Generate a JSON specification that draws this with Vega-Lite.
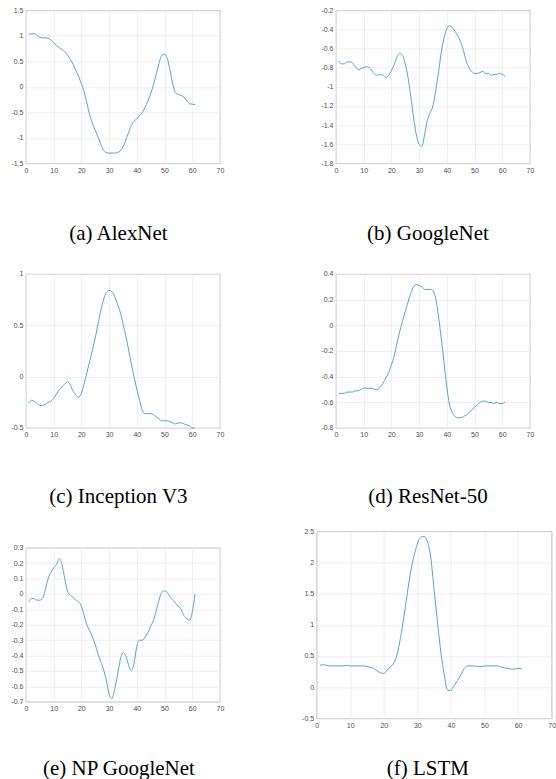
{
  "$schema": "https://vega.github.io/schema/vega-lite/v6.json",
  "background": "white",
  "padding": {"left": 9.94, "top": 5.3, "right": 0, "bottom": 0},
  "config": {
    "view": {"stroke": "#9a9a9a", "strokeWidth": 0.8},
    "axis": {
      "labelFont": "Liberation Sans", "labelFontSize": 7, "labelColor": "#4d4d4d",
      "labelPadding": 3, "labelFlush": false, "labelOverlap": false,
      "ticks": false, "domain": false,
      "grid": true, "gridColor": "#ebebeb", "gridWidth": 0.8,
      "title": null,
      "labelExpr": "replace(format(datum.value, '~g'), '\u2212', '-')"
    },
    "title": {"font": "Liberation Serif", "fontSize": 21, "fontWeight": "normal", "color": "#000000", "baseline": "top", "frame": "group", "orient": "bottom"},
    "line": {"color": "#52a5c8", "strokeWidth": 1, "interpolate": "monotone"}
  },
  "datasets": {
    "alexnet": [
      {"t":1,"v":1.03},{"t":2,"v":1.04},{"t":3,"v":1.04},{"t":4,"v":1.01},{"t":5,"v":0.97},{"t":6,"v":0.96},{"t":7,"v":0.96},{"t":8,"v":0.95},{"t":9,"v":0.92},{"t":10,"v":0.87},
      {"t":11,"v":0.81},{"t":12,"v":0.77},{"t":13,"v":0.73},{"t":14,"v":0.69},{"t":15,"v":0.62},{"t":16,"v":0.54},{"t":17,"v":0.44},{"t":18,"v":0.32},{"t":19,"v":0.2},{"t":20,"v":0.06},
      {"t":21,"v":-0.1},{"t":22,"v":-0.32},{"t":23,"v":-0.55},{"t":24,"v":-0.72},{"t":25,"v":-0.85},{"t":26,"v":-0.98},{"t":27,"v":-1.12},{"t":28,"v":-1.25},{"t":29,"v":-1.29},{"t":30,"v":-1.3},
      {"t":31,"v":-1.3},{"t":32,"v":-1.3},{"t":33,"v":-1.29},{"t":34,"v":-1.26},{"t":35,"v":-1.18},{"t":36,"v":-1.05},{"t":37,"v":-0.9},{"t":38,"v":-0.76},{"t":39,"v":-0.68},{"t":40,"v":-0.62},
      {"t":41,"v":-0.57},{"t":42,"v":-0.5},{"t":43,"v":-0.4},{"t":44,"v":-0.28},{"t":45,"v":-0.14},{"t":46,"v":0.04},{"t":47,"v":0.24},{"t":48,"v":0.45},{"t":49,"v":0.62},{"t":50,"v":0.64},
      {"t":51,"v":0.56},{"t":52,"v":0.32},{"t":53,"v":0.05},{"t":54,"v":-0.12},{"t":55,"v":-0.15},{"t":56,"v":-0.17},{"t":57,"v":-0.2},{"t":58,"v":-0.27},{"t":59,"v":-0.33},{"t":60,"v":-0.34},{"t":61,"v":-0.35}
    ],
    "googlenet": [
      {"t":1,"v":-0.73},{"t":2,"v":-0.76},{"t":3,"v":-0.76},{"t":4,"v":-0.74},{"t":5,"v":-0.74},{"t":6,"v":-0.75},{"t":7,"v":-0.79},{"t":8,"v":-0.82},{"t":9,"v":-0.81},{"t":10,"v":-0.8},
      {"t":11,"v":-0.79},{"t":12,"v":-0.8},{"t":13,"v":-0.83},{"t":14,"v":-0.87},{"t":15,"v":-0.88},{"t":16,"v":-0.87},{"t":17,"v":-0.88},{"t":18,"v":-0.9},{"t":19,"v":-0.88},{"t":20,"v":-0.83},
      {"t":21,"v":-0.77},{"t":22,"v":-0.69},{"t":23,"v":-0.65},{"t":24,"v":-0.67},{"t":25,"v":-0.76},{"t":26,"v":-0.9},{"t":27,"v":-1.1},{"t":28,"v":-1.32},{"t":29,"v":-1.5},{"t":30,"v":-1.6},
      {"t":31,"v":-1.62},{"t":32,"v":-1.5},{"t":33,"v":-1.35},{"t":34,"v":-1.27},{"t":35,"v":-1.2},{"t":36,"v":-1.04},{"t":37,"v":-0.85},{"t":38,"v":-0.64},{"t":39,"v":-0.49},{"t":40,"v":-0.39},
      {"t":41,"v":-0.36},{"t":42,"v":-0.38},{"t":43,"v":-0.42},{"t":44,"v":-0.47},{"t":45,"v":-0.53},{"t":46,"v":-0.62},{"t":47,"v":-0.73},{"t":48,"v":-0.8},{"t":49,"v":-0.84},{"t":50,"v":-0.86},
      {"t":51,"v":-0.86},{"t":52,"v":-0.85},{"t":53,"v":-0.84},{"t":54,"v":-0.86},{"t":55,"v":-0.86},{"t":56,"v":-0.88},{"t":57,"v":-0.87},{"t":58,"v":-0.87},{"t":59,"v":-0.86},{"t":60,"v":-0.87},{"t":61,"v":-0.89}
    ],
    "inception": [
      {"t":1,"v":-0.26},{"t":2,"v":-0.23},{"t":3,"v":-0.24},{"t":4,"v":-0.26},{"t":5,"v":-0.28},{"t":6,"v":-0.28},{"t":7,"v":-0.27},{"t":8,"v":-0.25},{"t":9,"v":-0.24},{"t":10,"v":-0.21},
      {"t":11,"v":-0.17},{"t":12,"v":-0.13},{"t":13,"v":-0.1},{"t":14,"v":-0.07},{"t":15,"v":-0.05},{"t":16,"v":-0.08},{"t":17,"v":-0.14},{"t":18,"v":-0.18},{"t":19,"v":-0.2},{"t":20,"v":-0.16},
      {"t":21,"v":-0.07},{"t":22,"v":0.04},{"t":23,"v":0.15},{"t":24,"v":0.26},{"t":25,"v":0.38},{"t":26,"v":0.51},{"t":27,"v":0.64},{"t":28,"v":0.75},{"t":29,"v":0.82},{"t":30,"v":0.84},
      {"t":31,"v":0.83},{"t":32,"v":0.78},{"t":33,"v":0.71},{"t":34,"v":0.63},{"t":35,"v":0.52},{"t":36,"v":0.4},{"t":37,"v":0.27},{"t":38,"v":0.13},{"t":39,"v":0.0},{"t":40,"v":-0.12},
      {"t":41,"v":-0.23},{"t":42,"v":-0.33},{"t":43,"v":-0.36},{"t":44,"v":-0.36},{"t":45,"v":-0.36},{"t":46,"v":-0.37},{"t":47,"v":-0.39},{"t":48,"v":-0.41},{"t":49,"v":-0.43},{"t":50,"v":-0.43},
      {"t":51,"v":-0.43},{"t":52,"v":-0.44},{"t":53,"v":-0.45},{"t":54,"v":-0.46},{"t":55,"v":-0.45},{"t":56,"v":-0.45},{"t":57,"v":-0.46},{"t":58,"v":-0.47},{"t":59,"v":-0.48},{"t":60,"v":-0.5},{"t":61,"v":-0.5}
    ],
    "resnet": [
      {"t":1,"v":-0.53},{"t":2,"v":-0.53},{"t":3,"v":-0.53},{"t":4,"v":-0.52},{"t":5,"v":-0.52},{"t":6,"v":-0.52},{"t":7,"v":-0.51},{"t":8,"v":-0.51},{"t":9,"v":-0.5},{"t":10,"v":-0.49},
      {"t":11,"v":-0.49},{"t":12,"v":-0.49},{"t":13,"v":-0.49},{"t":14,"v":-0.5},{"t":15,"v":-0.5},{"t":16,"v":-0.48},{"t":17,"v":-0.45},{"t":18,"v":-0.41},{"t":19,"v":-0.37},{"t":20,"v":-0.31},
      {"t":21,"v":-0.24},{"t":22,"v":-0.14},{"t":23,"v":-0.05},{"t":24,"v":0.03},{"t":25,"v":0.11},{"t":26,"v":0.18},{"t":27,"v":0.25},{"t":28,"v":0.3},{"t":29,"v":0.32},{"t":30,"v":0.31},
      {"t":31,"v":0.3},{"t":32,"v":0.28},{"t":33,"v":0.28},{"t":34,"v":0.28},{"t":35,"v":0.27},{"t":36,"v":0.21},{"t":37,"v":0.07},{"t":38,"v":-0.1},{"t":39,"v":-0.29},{"t":40,"v":-0.48},
      {"t":41,"v":-0.62},{"t":42,"v":-0.68},{"t":43,"v":-0.71},{"t":44,"v":-0.72},{"t":45,"v":-0.72},{"t":46,"v":-0.71},{"t":47,"v":-0.7},{"t":48,"v":-0.68},{"t":49,"v":-0.66},{"t":50,"v":-0.64},
      {"t":51,"v":-0.62},{"t":52,"v":-0.6},{"t":53,"v":-0.59},{"t":54,"v":-0.59},{"t":55,"v":-0.6},{"t":56,"v":-0.6},{"t":57,"v":-0.61},{"t":58,"v":-0.6},{"t":59,"v":-0.61},{"t":60,"v":-0.61},{"t":61,"v":-0.6}
    ],
    "npgooglenet": [
      {"t":1,"v":-0.05},{"t":2,"v":-0.03},{"t":3,"v":-0.03},{"t":4,"v":-0.04},{"t":5,"v":-0.04},{"t":6,"v":-0.03},{"t":7,"v":0.03},{"t":8,"v":0.1},{"t":9,"v":0.14},{"t":10,"v":0.17},
      {"t":11,"v":0.19},{"t":12,"v":0.23},{"t":13,"v":0.19},{"t":14,"v":0.1},{"t":15,"v":0.02},{"t":16,"v":-0.01},{"t":17,"v":-0.02},{"t":18,"v":-0.04},{"t":19,"v":-0.05},{"t":20,"v":-0.08},
      {"t":21,"v":-0.14},{"t":22,"v":-0.2},{"t":23,"v":-0.24},{"t":24,"v":-0.28},{"t":25,"v":-0.33},{"t":26,"v":-0.39},{"t":27,"v":-0.44},{"t":28,"v":-0.49},{"t":29,"v":-0.56},{"t":30,"v":-0.65},
      {"t":31,"v":-0.68},{"t":32,"v":-0.62},{"t":33,"v":-0.53},{"t":34,"v":-0.43},{"t":35,"v":-0.38},{"t":36,"v":-0.4},{"t":37,"v":-0.46},{"t":38,"v":-0.5},{"t":39,"v":-0.45},{"t":40,"v":-0.34},
      {"t":41,"v":-0.3},{"t":42,"v":-0.3},{"t":43,"v":-0.28},{"t":44,"v":-0.25},{"t":45,"v":-0.21},{"t":46,"v":-0.17},{"t":47,"v":-0.11},{"t":48,"v":-0.04},{"t":49,"v":0.01},{"t":50,"v":0.02},
      {"t":51,"v":0.01},{"t":52,"v":-0.02},{"t":53,"v":-0.04},{"t":54,"v":-0.06},{"t":55,"v":-0.08},{"t":56,"v":-0.1},{"t":57,"v":-0.14},{"t":58,"v":-0.16},{"t":59,"v":-0.17},{"t":60,"v":-0.12},{"t":61,"v":0.0}
    ],
    "lstm": [
      {"t":1,"v":0.35},{"t":2,"v":0.36},{"t":3,"v":0.35},{"t":4,"v":0.34},{"t":5,"v":0.34},{"t":6,"v":0.34},{"t":7,"v":0.34},{"t":8,"v":0.34},{"t":9,"v":0.35},{"t":10,"v":0.34},
      {"t":11,"v":0.34},{"t":12,"v":0.34},{"t":13,"v":0.34},{"t":14,"v":0.34},{"t":15,"v":0.33},{"t":16,"v":0.32},{"t":17,"v":0.3},{"t":18,"v":0.26},{"t":19,"v":0.23},{"t":20,"v":0.22},
      {"t":21,"v":0.27},{"t":22,"v":0.33},{"t":23,"v":0.39},{"t":24,"v":0.53},{"t":25,"v":0.8},{"t":26,"v":1.13},{"t":27,"v":1.5},{"t":28,"v":1.85},{"t":29,"v":2.1},{"t":30,"v":2.3},
      {"t":31,"v":2.4},{"t":32,"v":2.42},{"t":33,"v":2.33},{"t":34,"v":2.08},{"t":35,"v":1.55},{"t":36,"v":1.04},{"t":37,"v":0.56},{"t":38,"v":0.2},{"t":39,"v":-0.05},{"t":40,"v":-0.05},
      {"t":41,"v":0.03},{"t":42,"v":0.11},{"t":43,"v":0.2},{"t":44,"v":0.3},{"t":45,"v":0.34},{"t":46,"v":0.34},{"t":47,"v":0.34},{"t":48,"v":0.33},{"t":49,"v":0.33},{"t":50,"v":0.34},
      {"t":51,"v":0.34},{"t":52,"v":0.34},{"t":53,"v":0.34},{"t":54,"v":0.34},{"t":55,"v":0.32},{"t":56,"v":0.31},{"t":57,"v":0.3},{"t":58,"v":0.29},{"t":59,"v":0.29},{"t":60,"v":0.3},{"t":61,"v":0.3}
    ]
  },
  "spacing": 18,
  "vconcat": [
    {
      "spacing": 23.7,
      "vconcat": [
        {
          "bounds": "flush",
          "spacing": 116,
          "hconcat": [
            {
              "width": 194, "height": 153,
              "data": {"name": "alexnet"},
              "title": {"text": "(a) AlexNet", "offset": 50.2, "dx": -4.5},
              "mark": {"type": "line"},
              "encoding": {
                "x": {"field": "t", "type": "quantitative", "scale": {"domain": [0, 70], "nice": false, "zero": false}, "axis": {"values": [0, 10, 20, 30, 40, 50, 60, 70]}},
                "y": {"field": "v", "type": "quantitative", "scale": {"domain": [-1.5, 1.5], "nice": false, "zero": false}, "axis": {"values": [-1.5, -1, -0.5, 0, 0.5, 1, 1.5]}}
              }
            },
            {
              "width": 194, "height": 153,
              "data": {"name": "googlenet"},
              "title": {"text": "(b) GoogleNet", "offset": 50.2, "dx": -5},
              "mark": {"type": "line"},
              "encoding": {
                "x": {"field": "t", "type": "quantitative", "scale": {"domain": [0, 70], "nice": false, "zero": false}, "axis": {"values": [0, 10, 20, 30, 40, 50, 60, 70]}},
                "y": {"field": "v", "type": "quantitative", "scale": {"domain": [-1.8, -0.2], "nice": false, "zero": false}, "axis": {"values": [-1.8, -1.6, -1.4, -1.2, -1, -0.8, -0.6, -0.4, -0.2]}}
              }
            }
          ]
        },
        {
          "bounds": "flush",
          "spacing": 116,
          "hconcat": [
            {
              "width": 194, "height": 154,
              "data": {"name": "inception"},
              "title": {"text": "(c) Inception V3", "offset": 48.3, "dx": -4.5},
              "mark": {"type": "line"},
              "encoding": {
                "x": {"field": "t", "type": "quantitative", "scale": {"domain": [0, 70], "nice": false, "zero": false}, "axis": {"values": [0, 10, 20, 30, 40, 50, 60, 70]}},
                "y": {"field": "v", "type": "quantitative", "scale": {"domain": [-0.5, 1], "nice": false, "zero": false}, "axis": {"values": [-0.5, 0, 0.5, 1]}}
              }
            },
            {
              "width": 194, "height": 154,
              "data": {"name": "resnet"},
              "title": {"text": "(d) ResNet-50", "offset": 48.3, "dx": -5},
              "mark": {"type": "line"},
              "encoding": {
                "x": {"field": "t", "type": "quantitative", "scale": {"domain": [0, 70], "nice": false, "zero": false}, "axis": {"values": [0, 10, 20, 30, 40, 50, 60, 70]}},
                "y": {"field": "v", "type": "quantitative", "scale": {"domain": [-0.8, 0.4], "nice": false, "zero": false}, "axis": {"values": [-0.8, -0.6, -0.4, -0.2, 0, 0.2, 0.4]}}
              }
            }
          ]
        }
      ]
    },
    {
      "bounds": "flush",
      "center": true,
      "spacing": 96.7,
      "hconcat": [
        {
          "width": 194, "height": 154,
          "data": {"name": "npgooglenet"},
          "title": {"text": "(e) NP GoogleNet", "offset": 46.2, "dx": -4},
          "mark": {"type": "line"},
          "encoding": {
            "x": {"field": "t", "type": "quantitative", "scale": {"domain": [0, 70], "nice": false, "zero": false}, "axis": {"values": [0, 10, 20, 30, 40, 50, 60, 70]}},
            "y": {"field": "v", "type": "quantitative", "scale": {"domain": [-0.7, 0.3], "nice": false, "zero": false}, "axis": {"values": [-0.7, -0.6, -0.5, -0.4, -0.3, -0.2, -0.1, 0, 0.1, 0.2, 0.3]}}
          }
        },
        {
          "width": 235, "height": 187,
          "data": {"name": "lstm"},
          "title": {"text": "(f) LSTM", "offset": 29.7, "dx": -6.2},
          "mark": {"type": "line"},
          "encoding": {
            "x": {"field": "t", "type": "quantitative", "scale": {"domain": [0, 70], "nice": false, "zero": false}, "axis": {"values": [0, 10, 20, 30, 40, 50, 60, 70]}},
            "y": {"field": "v", "type": "quantitative", "scale": {"domain": [-0.5, 2.5], "nice": false, "zero": false}, "axis": {"values": [-0.5, 0, 0.5, 1, 1.5, 2, 2.5]}}
          }
        }
      ]
    }
  ]
}
